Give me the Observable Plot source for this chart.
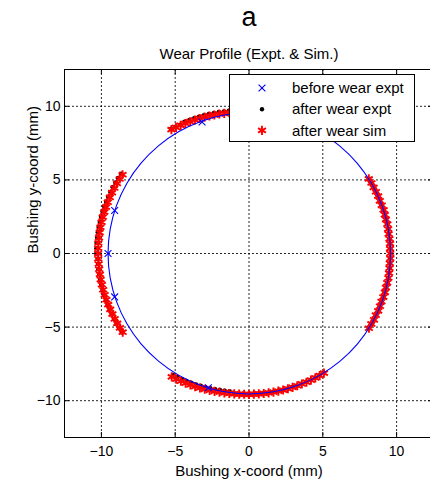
<!DOCTYPE html>
<html>
<head>
<meta charset="utf-8">
<script src="https://cdn.jsdelivr.net/npm/d3@7"></script>
<script src="https://cdn.jsdelivr.net/npm/@observablehq/plot@0.6"></script>
<style>
  html, body { margin: 0; padding: 0; background: #fff; }
  #chart { position: relative; width: 430px; height: 481px; overflow: hidden; }
</style>
</head>
<body>
<div id="chart"></div>
<script>
// Bushing profile, polar readings: angle (deg) and radius (mm) about the bushing centre.

// Before wear: measured profile
const beforeDeg = [0,10,20,30,40,50,60,70,80,90,100,110,120,130,140,150,160,170,
                   180,190,200,210,220,230,240,250,260,270,280,290,300,310,320,330,340,350];
const beforeR = [9.59,9.59,9.58,9.57,9.56,9.55,9.55,9.55,9.55,9.55,9.55,9.55,9.55,9.55,9.55,9.55,9.55,9.55,
                 9.55,9.55,9.55,9.55,9.55,9.54,9.54,9.54,9.54,9.54,9.54,9.55,9.56,9.57,9.58,9.58,9.59,9.59];
// Before wear: individual measured points (mm)
const beforePtX = [-3.18, -9.10, -9.55, -9.10, -2.75];
const beforePtY = [ 8.93,  2.92,  0.00, -2.95, -9.12];

// Worn zones (deg)
const rightDeg = [-32,-30,-28,-26,-24,-22,-20,-18,-16,-14,-12,-10,-8,-6,-4,-2,0,
                  2,4,6,8,10,12,14,16,18,20,22,24,26,28,30,32];
const topDeg = [58,60,62,64,66,68,70,72,74,76,78,80,82,84,86,88,90,
                92,94,96,98,100,102,104,106,108,110,112,114,116,118,120,122];
const leftDeg = [148,150,152,154,156,158,160,162,164,166,168,170,172,174,176,178,180,
                 182,184,186,188,190,192,194,196,198,200,202,204,206,208,210,212];
const bottomDeg = [238,240,242,244,246,248,250,252,254,256,258,260,262,264,266,268,270,
                   272,274,276,278,280,282,284,286,288,290,292,294,296,298,300,302];

// After wear: simulation radii (mm)
const simRightR = [9.58,9.57,9.59,9.56,9.58,9.57,9.55,9.57,9.58,9.56,9.57,9.59,9.58,9.57,9.56,9.58,9.57,
                   9.56,9.58,9.57,9.55,9.57,9.58,9.56,9.57,9.59,9.57,9.56,9.58,9.57,9.56,9.58,9.57];
const simTopR = [9.58,9.58,9.58,9.59,9.59,9.59,9.59,9.60,9.60,9.60,9.60,9.60,9.61,9.61,9.61,9.62,9.62,
                 9.63,9.64,9.65,9.66,9.67,9.69,9.70,9.72,9.74,9.76,9.78,9.80,9.83,9.86,9.89,9.92];
const simLeftR = [10.10,10.12,10.13,10.15,10.16,10.17,10.18,10.19,10.20,10.21,10.21,10.22,10.22,10.22,10.23,10.22,10.22,
                  10.22,10.21,10.21,10.20,10.20,10.19,10.18,10.17,10.16,10.15,10.14,10.13,10.12,10.11,10.10,10.09];
const simBottomR = [9.88,9.85,9.83,9.80,9.77,9.75,9.72,9.70,9.67,9.65,9.63,9.62,9.60,9.59,9.58,9.57,9.57,
                    9.56,9.56,9.56,9.56,9.56,9.56,9.56,9.56,9.56,9.56,9.56,9.57,9.57,9.57,9.58,9.58];

// After wear: experimental radii (mm)
const exptRightR = [9.57,9.58,9.57,9.57,9.58,9.56,9.56,9.58,9.57,9.57,9.58,9.58,9.57,9.58,9.57,9.57,9.58,
                    9.57,9.57,9.56,9.56,9.58,9.57,9.57,9.58,9.58,9.56,9.57,9.57,9.58,9.57,9.57,9.56];
const exptTopR = [9.58,9.58,9.58,9.59,9.59,9.59,9.59,9.60,9.60,9.60,9.60,9.60,9.61,9.61,9.61,9.62,9.62,
                  9.63,9.64,9.78,9.79,9.80,9.82,9.83,9.85,9.87,9.89,9.91,9.93,9.95,9.91,9.94,9.97];
const exptLeftR = [10.22,10.24,10.25,10.27,10.28,10.29,10.30,10.31,10.32,10.33,10.33,10.34,10.34,10.34,10.35,10.34,10.34,
                   10.26,10.25,10.25,10.24,10.24,10.23,10.22,10.21,10.20,10.19,10.18,10.17,10.16,10.15,10.14,10.13];
const exptBottomR = [9.73,9.70,9.68,9.65,9.62,9.60,9.57,9.55,9.52,9.50,9.48,9.47,9.45,9.57,9.56,9.55,9.55,
                     9.54,9.54,9.54,9.54,9.54,9.54,9.54,9.54,9.54,9.54,9.54,9.55,9.55,9.55,9.56,9.56];

const axisTicks = [-10, -5, 0, 5, 10];

const polar = (deg, r) => deg.map((a, i) => ({
  x: r[i] * Math.cos(a * Math.PI / 180),
  y: r[i] * Math.sin(a * Math.PI / 180)
}));

const beforeProfile = polar(beforeDeg, beforeR);
const beforePoints = beforePtX.map((x, i) => ({x, y: beforePtY[i]}));
const afterExpt = [
  ...polar(rightDeg, exptRightR), ...polar(topDeg, exptTopR),
  ...polar(leftDeg, exptLeftR), ...polar(bottomDeg, exptBottomR)
];
const afterSim = [
  ...polar(rightDeg, simRightR), ...polar(topDeg, simTopR),
  ...polar(leftDeg, simLeftR), ...polar(bottomDeg, simBottomR)
];

const font = "'Liberation Sans', Arial, Helvetica, sans-serif";
const blue = "#0000ff", red = "#ff0000";
const simR = 4.3, simW = 1.9, timesR = 3.2;

const chart = Plot.plot({
  width: 430,
  height: 481,
  marginLeft: 64,
  marginRight: -3,
  marginTop: 69,
  marginBottom: 44,
  style: {fontFamily: font, fontSize: "14px", color: "#000", background: "#fff"},
  x: {domain: [-12.5, 12.5], ticks: axisTicks, tickSize: 0, tickPadding: 9, label: null},
  y: {domain: [-12.5, 12.5], ticks: axisTicks, tickSize: 0, tickPadding: 4, label: null},
  marks: [
    // dotted grid
    Plot.ruleX(axisTicks, {stroke: "#000", strokeDasharray: "2,2", strokeOpacity: 0.85}),
    Plot.ruleY(axisTicks, {stroke: "#000", strokeDasharray: "2,2", strokeOpacity: 0.85}),
    // inward tick marks on all four sides
    Plot.ruleX(axisTicks, {stroke: "#000", insetTop: 363}),
    Plot.ruleX(axisTicks, {stroke: "#000", insetBottom: 363}),
    Plot.ruleY(axisTicks, {stroke: "#000", insetRight: 364}),
    Plot.ruleY(axisTicks, {stroke: "#000", insetLeft: 364}),
    // after wear: experiment, then simulation
    Plot.dot(afterExpt, {x: "x", y: "y", r: 2.3, fill: "#000", stroke: null}),
    Plot.dot(afterSim, {x: "x", y: "y", symbol: "asterisk", r: simR, stroke: red, strokeWidth: simW}),
    // before wear profile and points, drawn over the worn zones
    Plot.line(beforeProfile, {x: "x", y: "y", stroke: blue, strokeWidth: 1.1, curve: "catmull-rom-closed"}),
    Plot.dot(beforePoints, {x: "x", y: "y", symbol: "times", r: timesR, stroke: blue, strokeWidth: 1.1}),
    Plot.frame({stroke: "#000"}),
    // titles and axis labels
    Plot.text(["a"], {text: d => d, frameAnchor: "top", dy: -44, lineAnchor: "bottom", fontSize: 27}),
    Plot.text(["Wear Profile (Expt. & Sim.)"], {text: d => d, frameAnchor: "top", dy: -11, lineAnchor: "bottom", fontSize: 15}),
    Plot.text(["Bushing x-coord (mm)"], {text: d => d, frameAnchor: "bottom", dy: 38, lineAnchor: "bottom", fontSize: 15}),
    Plot.text(["Bushing y-coord (mm)"], {text: d => d, frameAnchor: "left", dx: -31, rotate: -90, fontSize: 15})
  ]
});

// legend box, drawn over the plot area
const legendItems = [
  {label: "before wear expt", kind: "times", color: blue},
  {label: "after wear expt", kind: "dot", color: "#000"},
  {label: "after wear sim", kind: "asterisk", color: red}
];
const svg = d3.select(chart);
const lg = svg.append("g").attr("font-family", font).attr("font-size", 15).attr("text-anchor", "start");
lg.append("rect")
  .attr("x", 229.5).attr("y", 74.5).attr("width", 185).attr("height", 67)
  .attr("fill", "#fff").attr("stroke", "#000");
legendItems.forEach((d, i) => {
  const cy = 88 + i * 21.2;
  const row = lg.append("g");
  if (d.kind === "dot") {
    row.append("circle").attr("cx", 262).attr("cy", cy).attr("r", 2.2).attr("fill", d.color);
  } else {
    const sym = d.kind === "times" ? d3.symbolTimes : d3.symbolAsterisk;
    const rr = d.kind === "times" ? timesR : simR;
    row.append("path")
      .attr("transform", `translate(262,${cy})`)
      .attr("d", d3.symbol(sym, Math.PI * rr * rr)())
      .attr("fill", "none").attr("stroke", d.color)
      .attr("stroke-width", d.kind === "times" ? 1.1 : simW);
  }
  row.append("text").attr("x", 292).attr("y", cy).attr("dy", "0.35em").attr("fill", "#000").text(d.label);
});

document.getElementById("chart").appendChild(chart);
</script>
</body>
</html>
